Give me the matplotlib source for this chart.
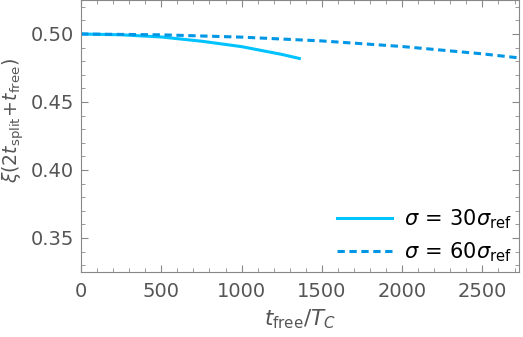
import numpy as np
import matplotlib.pyplot as plt
from matplotlib.ticker import MultipleLocator

# sigma = 30 sigma_ref
t_30 = [0, 250, 500, 750, 1000, 1250, 1360]
xi_30 = [0.5000, 0.4994, 0.4978, 0.4947, 0.4907, 0.4850, 0.4820]

# sigma = 60 sigma_ref
t_60 = [0, 500, 1000, 1500, 2000, 2500, 2730]
xi_60 = [0.5000, 0.4994, 0.4977, 0.4949, 0.4908, 0.4854, 0.4824]

plt.rcParams['mathtext.fontset'] = 'dejavusans'
gray = '#555555'

fig = plt.figure(figsize=(5.23, 3.37), dpi=100)
ax = fig.add_axes([0.155, 0.193, 0.838, 0.807])

ax.plot(t_30, xi_30, color='#00c3ff', lw=2.2, label=r'$\sigma\,=\,30\sigma_{\rm ref}$')
ax.plot(t_60, xi_60, color='#0096e6', lw=2.2, ls=(0, (2.4, 1.5)),
        label=r'$\sigma\,=\,60\sigma_{\rm ref}$')

ax.set_xlim(0, 2730)
ax.set_ylim(0.325, 0.525)
ax.xaxis.set_major_locator(MultipleLocator(500))
ax.xaxis.set_minor_locator(MultipleLocator(100))
ax.yaxis.set_major_locator(MultipleLocator(0.05))
ax.yaxis.set_minor_locator(MultipleLocator(0.01))
ax.yaxis.set_major_formatter(plt.FuncFormatter(lambda v, p: f'{v:.2f}'))

ax.tick_params(which='both', direction='in', top=True, right=True,
               color='#888888', labelcolor=gray, labelsize=14)
ax.tick_params(which='major', length=5, width=0.8)
ax.tick_params(which='minor', length=3, width=0.6)
ax.tick_params(axis='x', pad=7)
ax.tick_params(axis='y', pad=5)
for s in ax.spines.values():
    s.set_color('#888888')

ax.set_xlabel(r'$t_{\rm free}/T_C$', fontsize=15.5, color=gray, labelpad=5)
ax.set_ylabel(r'$\xi(2t_{\rm split}\!+\!t_{\rm free})$', fontsize=13.6, color=gray, labelpad=6)
ax.yaxis.set_label_coords(-0.125, 0.555)

ax.legend(loc='lower right', frameon=False, fontsize=15, handlelength=2.6,
          handletextpad=0.6, labelspacing=0.45, borderaxespad=0,
          bbox_to_anchor=(1.002, 0.0))

fig.savefig('out.png', dpi=100)
